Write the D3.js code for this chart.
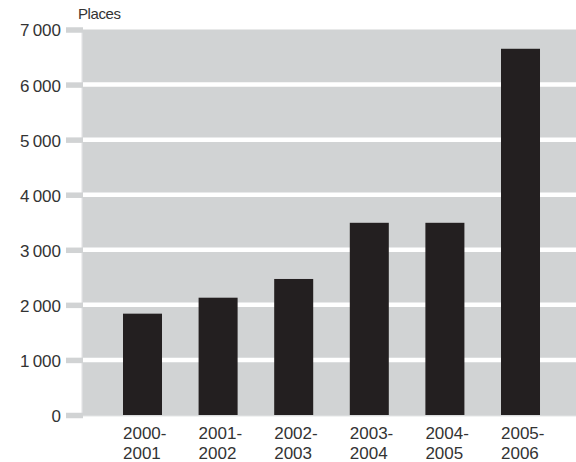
<!DOCTYPE html>
<html>
<head>
<meta charset="utf-8">
<script src="https://cdn.jsdelivr.net/npm/d3@7"></script>
<style>
  html, body { margin: 0; padding: 0; background: #fff; }
  svg { display: block; }
  text { font-family: "Liberation Sans", Arial, sans-serif; fill: #333; }
</style>
</head>
<body>
<svg id="chart" width="576" height="462"></svg>
<script>
const categoriesLine1 = ["2000-", "2001-", "2002-", "2003-", "2004-", "2005-"];
const categoriesLine2 = ["2001", "2002", "2003", "2004", "2005", "2006"];
const places = [1840, 2130, 2470, 3490, 3490, 6650];
const yTicks = [0, 1000, 2000, 3000, 4000, 5000, 6000, 7000];
const yTickLabels = ["0", "1 000", "2 000", "3 000", "4 000", "5 000", "6 000", "7 000"];
const yTitle = "Places";

const svg = d3.select("#chart");
const plotLeft = 82, plotRight = 576, plotTop = 29.5, plotBottom = 415;

const y = d3.scaleLinear().domain([0, 7000]).range([plotBottom, plotTop]);
const x = d3.scaleBand()
  .domain(categoriesLine1.map((d, i) => i))
  .range([104.7, 558.3])
  .paddingInner(0.484)
  .paddingOuter(0.242);

// plot background
svg.append("rect")
  .attr("x", plotLeft).attr("y", plotTop)
  .attr("width", plotRight - plotLeft).attr("height", plotBottom + 1 - plotTop)
  .attr("fill", "#d1d3d4");

// gridlines
svg.append("g").selectAll("line")
  .data(yTicks.filter(t => t > 0 && t < 7000))
  .join("line")
  .attr("x1", plotLeft + 1).attr("x2", plotRight)
  .attr("y1", d => y(d)).attr("y2", d => y(d))
  .attr("stroke", "#fff").attr("stroke-width", 4.5);

// light axis lines
svg.append("line")
  .attr("x1", plotLeft).attr("x2", plotLeft)
  .attr("y1", plotTop).attr("y2", plotBottom + 1)
  .attr("stroke", "#e4e5e6").attr("stroke-width", 1.2);
svg.append("line")
  .attr("x1", plotLeft).attr("x2", plotRight)
  .attr("y1", plotBottom + 1).attr("y2", plotBottom + 1)
  .attr("stroke", "#e4e5e6").attr("stroke-width", 1.2);

// y axis ticks & labels
const yAxis = d3.axisLeft(y)
  .tickValues(yTicks)
  .tickSize(0)
  .tickFormat((d, i) => yTickLabels[i]);
const gy = svg.append("g").attr("transform", `translate(${plotLeft},0)`).call(yAxis);
gy.select(".domain").remove();
gy.selectAll(".tick").append("line")
  .attr("x1", -16).attr("x2", 1)
  .attr("stroke", "#d1d3d4").attr("stroke-width", 5.5);
gy.selectAll(".tick text")
  .attr("x", -21).attr("dy", "0.38em")
  .attr("text-anchor", "end")
  .style("font-size", "17px")
  .style("word-spacing", "-1.5px")
  .style("fill", "#333");

// bars
svg.append("g").selectAll("rect")
  .data(places)
  .join("rect")
  .attr("x", (d, i) => x(i))
  .attr("width", x.bandwidth())
  .attr("y", d => y(d))
  .attr("height", d => y(0) - y(d))
  .attr("fill", "#231f20");

// x labels
const xl = svg.append("g").selectAll("text")
  .data(categoriesLine1)
  .join("text")
  .attr("x", (d, i) => x(i))
  .attr("y", 439)
  .style("font-size", "17px");
xl.append("tspan").text(d => d);
xl.append("tspan")
  .attr("x", (d, i) => x(i))
  .attr("dy", 20)
  .text((d, i) => categoriesLine2[i]);

// y title
svg.append("text")
  .attr("x", 78).attr("y", 19)
  .style("font-size", "15px")
  .style("letter-spacing", "-0.4px")
  .text(yTitle);
</script>
</body>
</html>
